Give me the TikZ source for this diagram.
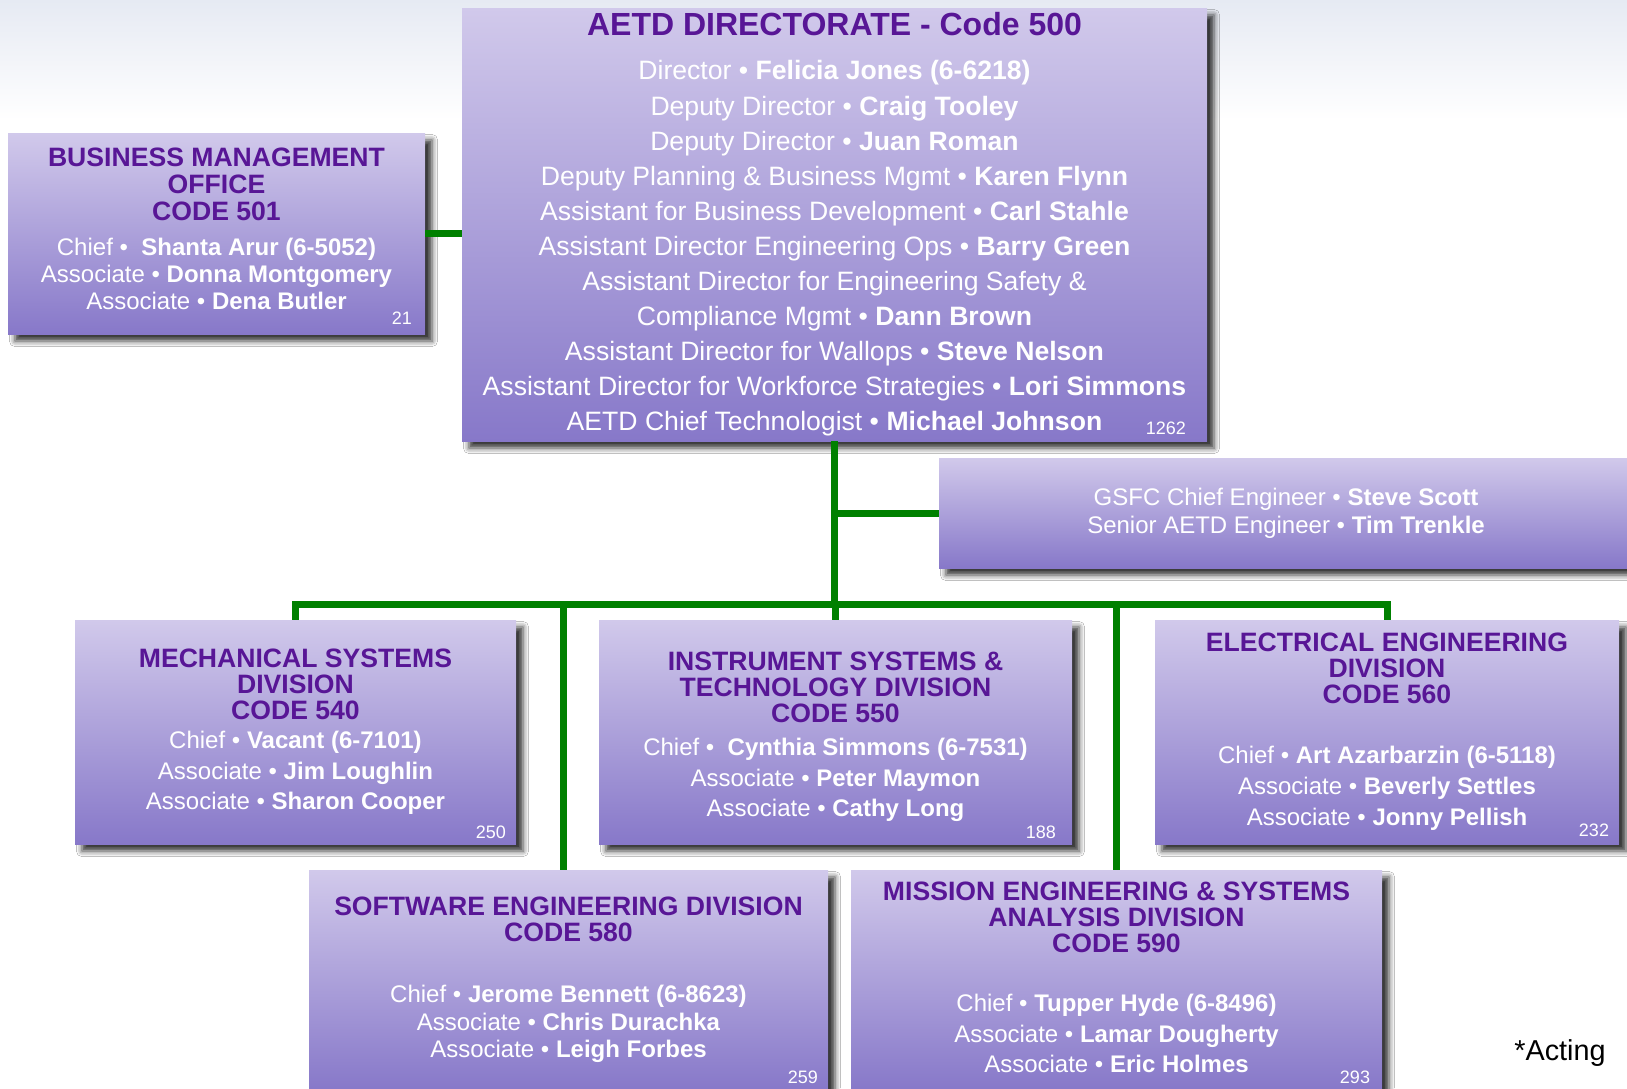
\documentclass[tikz,border=0pt]{standalone}
\usepackage{fontspec}
\setmainfont{Liberation Sans}
\usetikzlibrary{shadows.blur}

\definecolor{boxtop}{RGB}{209,201,235}
\definecolor{boxbot}{RGB}{135,120,201}
\definecolor{ttlpurple}{RGB}{88,22,150}
\definecolor{linegreen}{RGB}{0,128,0}
\definecolor{bgtop}{RGB}{230,234,243}

\newcommand{\rl}[2]{#1 \textbullet\ \textbf{#2}}
\newcommand{\ttl}{\color{ttlpurple}\bfseries\fontsize{13.3}{13}\selectfont}

\begin{document}
\begin{tikzpicture}[x=0.5pt,y=-0.5pt,
    orgbox/.style={rectangle,inner sep=0pt,align=center,text=white,
      top color=boxtop,bottom color=boxbot,
      blur shadow={shadow xshift=3.5pt,shadow yshift=-3.5pt,shadow blur radius=2.8pt,shadow opacity=80}},
    conn/.style={draw=linegreen,line width=3.5pt},
    count/.style={anchor=base east,inner sep=0pt,text=white,font=\fontsize{9}{10}\selectfont}]

    \useasboundingbox (0,0) rectangle (1627,1088);
    \fill[white] (0,0) rectangle (1627,1088);
    \fill[top color=bgtop,bottom color=white] (0,0) rectangle (1627,120);

    % Define boxes
    \node[orgbox,minimum width=372.5pt,minimum height=216.5pt,
          font=\fontsize{13.3}{17.55}\selectfont] (dir) at (834.5,224.5)
      {{\color{ttlpurple}\bfseries\fontsize{16}{16}\selectfont AETD DIRECTORATE - Code 500}\\[4.6pt]
       \rl{Director}{Felicia Jones (6-6218)}\\
       \rl{Deputy Director}{Craig Tooley}\\
       \rl{Deputy Director}{Juan Roman}\\
       \rl{Deputy Planning \& Business Mgmt}{Karen Flynn}\\
       \rl{Assistant for Business Development}{Carl Stahle}\\
       \rl{Assistant Director Engineering Ops}{Barry Green}\\
       Assistant Director for Engineering Safety \&\\
       \rl{Compliance Mgmt}{Dann Brown}\\
       \rl{Assistant Director for Wallops}{Steve Nelson}\\
       \rl{Assistant Director for Workforce Strategies}{Lori Simmons}\\
       \rl{AETD Chief Technologist}{Michael Johnson}};

    \node[orgbox,minimum width=208.5pt,minimum height=100.5pt,
          font=\fontsize{12}{13.5}\selectfont] (bmo) at (216.5,233.5)
      {{\ttl BUSINESS MANAGEMENT}\\
       {\ttl OFFICE}\\
       {\ttl CODE 501}\\[4pt]
       \rl{Chief}{\ Shanta Arur (6-5052)}\\
       \rl{Associate}{Donna Montgomery}\\
       \rl{Associate}{Dena Butler}\\[-8.3pt]
       \mbox{}};

    \node[orgbox,minimum width=347pt,minimum height=55pt,
          font=\fontsize{12}{14}\selectfont] (adv) at (1286,513)
      {\rl{GSFC Chief Engineer}{Steve Scott}\\
       \rl{Senior AETD Engineer}{Tim Trenkle}};

    \node[orgbox,minimum width=220.5pt,minimum height=112pt,
          font=\fontsize{12}{15.3}\selectfont] (mech) at (295.5,732)
      {{\ttl MECHANICAL SYSTEMS}\\[-2.3pt]
       {\ttl DIVISION}\\[-2.3pt]
       {\ttl CODE 540}\\[-0.9pt]
       \rl{Chief}{Vacant (6-7101)}\\
       \rl{Associate}{Jim Loughlin}\\
       \rl{Associate}{Sharon Cooper}};

    \node[orgbox,minimum width=236.5pt,minimum height=112pt,
          font=\fontsize{12}{15.25}\selectfont] (inst) at (835.5,732)
      {\mbox{}\\[-1.05pt]
       {\ttl INSTRUMENT SYSTEMS \&}\\[-2.25pt]
       {\ttl TECHNOLOGY DIVISION}\\[-2.25pt]
       {\ttl CODE 550}\\[1.1pt]
       \rl{Chief}{\ Cynthia Simmons (6-7531)}\\
       \rl{Associate}{Peter Maymon}\\
       \rl{Associate}{Cathy Long}};

    \node[orgbox,minimum width=232pt,minimum height=112pt,
          font=\fontsize{12}{15.5}\selectfont] (elec) at (1387,732)
      {{\ttl ELECTRICAL ENGINEERING}\\[-2.5pt]
       {\ttl DIVISION}\\[-2.5pt]
       {\ttl CODE 560}\\[14.4pt]
       \rl{Chief}{Art Azarbarzin (6-5118)}\\
       \rl{Associate}{Beverly Settles}\\
       \rl{Associate}{Jonny Pellish}};

    \node[orgbox,minimum width=259.5pt,minimum height=110pt,
          font=\fontsize{12}{13.75}\selectfont] (sw) at (568.5,980)
      {{\ttl SOFTWARE ENGINEERING DIVISION}\\[-0.75pt]
       {\ttl CODE 580}\\[16.6pt]
       \rl{Chief}{Jerome Bennett (6-8623)}\\
       \rl{Associate}{Chris Durachka}\\
       \rl{Associate}{Leigh Forbes}};

    \node[orgbox,minimum width=265.5pt,minimum height=110pt,
          font=\fontsize{12}{15.25}\selectfont] (mis) at (1116.5,980)
      {{\ttl MISSION ENGINEERING \& SYSTEMS}\\[-2.25pt]
       {\ttl ANALYSIS DIVISION}\\[-2.25pt]
       {\ttl CODE 590}\\[14.1pt]
       \rl{Chief}{Tupper Hyde (6-8496)}\\
       \rl{Associate}{Lamar Dougherty}\\
       \rl{Associate}{Eric Holmes}\\[-12.65pt]
       \mbox{}};

    % Head counts
    \node[count] (dirN)  at ([xshift=-10.5pt,yshift=3.25pt]dir.south east) {1262};
    \node[count] (bmoN)  at ([xshift=-6.5pt,yshift=4.75pt]bmo.south east) {21};
    \node[count] (mechN) at ([xshift=-5pt,yshift=2.75pt]mech.south east) {250};
    \node[count] (instN) at ([xshift=-8pt,yshift=2.75pt]inst.south east) {188};
    \node[count] (elecN) at ([xshift=-5pt,yshift=3.75pt]elec.south east) {232};
    \node[count] (swN)   at ([xshift=-5pt,yshift=3.25pt]sw.south east) {259};
    \node[count] (misN)  at ([xshift=-6pt,yshift=3.25pt]mis.south east) {293};

    \node[font=\fontsize{14.4}{16}\selectfont] (acting) at (1560,1053) {*Acting};

    % Draw connectors
    \coordinate (bar) at (836,604);
    \draw[conn] (bmo.east) -- (bmo.east -| dir.west);
    \draw[conn] (dir.south) -- (dir.south |- bar);
    \draw[conn] (adv.west) -- (adv.west -| dir.south);
    \draw[conn] (mech.north) |- (bar) -| (elec.north);
    \draw[conn] (inst.north) -- (inst.north |- bar);
    \draw[conn] ([xshift=-2.75pt]sw.north) -- ([xshift=-2.75pt]sw.north |- bar);
    \draw[conn] (mis.north) -- (mis.north |- bar);

\end{tikzpicture}
\end{document}
